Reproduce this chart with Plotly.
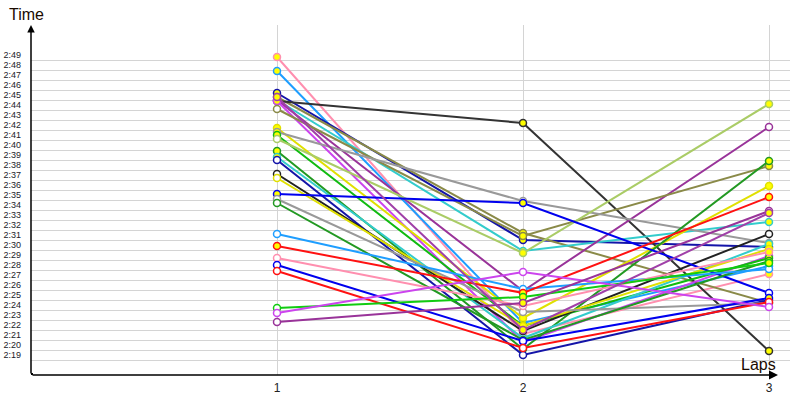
import plotly.graph_objects as go

laps = [1, 2, 3]

# lap times in seconds (2:xx)
pink_a = [168.8, 141.1, 147.1]
dodger_a = [167.4, 142.2, 147.9]
navy_a = [165.2, 150.5, 149.8]
olive_b = [164.8, 151.2, 144.2]
darkgray = [164.4, 162.2, 139.4]
turquoise = [164.5, 149.4, 152.3]
purple_a = [164.5, 145.4, 161.8]
violet_a = [164.4, 140.3, 148.9]
olive_a = [163.6, 150.9, 157.9]
yellow_a = [161.7, 142.7, 155.9]
gray_a = [161.3, 154.4, 150.2]
lime_c = [161.0, 141.9, 148.7]
yellowgreen = [160.6, 149.2, 164.1]
forest_a = [159.4, 139.6, 158.4]
cyan_b = [158.8, 140.7, 150.1]
navy_b = [158.5, 139.0, 144.5]
black = [157.1, 141.4, 151.1]
yellow_b = [156.7, 141.9, 149.6]
blue_a = [155.1, 154.2, 145.2]
gray_b = [154.6, 143.3, 144.2]
forest_b = [154.2, 140.5, 148.4]
dodger_b = [151.1, 145.6, 147.6]
red_a = [149.9, 145.2, 154.8]
pink_b = [148.7, 143.9, 149.3]
blue_b = [148.0, 140.4, 144.7]
red_b = [147.4, 139.7, 144.3]
lime = [143.7, 144.8, 148.2]
violet_b = [143.2, 147.3, 143.8]
purple_b = [142.3, 144.2, 153.4]
purple_c = [164.8, 141.5, 153.2]

series = [
    ("pink_a", pink_a), ("dodger_a", dodger_a), ("navy_a", navy_a), ("olive_b", olive_b),
    ("darkgray", darkgray), ("turquoise", turquoise), ("purple_a", purple_a),
    ("violet_a", violet_a), ("olive_a", olive_a), ("yellow_a", yellow_a), ("gray_a", gray_a),
    ("lime_c", lime_c), ("yellowgreen", yellowgreen), ("forest_a", forest_a),
    ("cyan_b", cyan_b), ("navy_b", navy_b), ("black", black), ("yellow_b", yellow_b),
    ("blue_a", blue_a), ("gray_b", gray_b), ("forest_b", forest_b), ("dodger_b", dodger_b),
    ("red_a", red_a), ("pink_b", pink_b), ("blue_b", blue_b), ("red_b", red_b),
    ("lime", lime), ("violet_b", violet_b), ("purple_b", purple_b), ("purple_c", purple_c),
]

# styles
colors = {
    "pink_a": "#FF8FAF", "pink_b": "#FF8FAF", "dodger_a": "#1E9EFF", "dodger_b": "#1E9EFF",
    "navy_a": "#1414A8", "navy_b": "#1414A8", "olive_a": "#8A8A48", "olive_b": "#8A8A48",
    "darkgray": "#333333", "turquoise": "#33CCCC", "purple_a": "#993399", "purple_b": "#993399",
    "purple_c": "#A040A8", "violet_a": "#CC44EE", "violet_b": "#CC44EE",
    "yellow_a": "#E0E000", "yellow_b": "#E0E000", "gray_a": "#999999", "gray_b": "#999999",
    "lime_c": "#11BB11", "lime": "#11CC11", "yellowgreen": "#AACC66",
    "forest_a": "#229922", "forest_b": "#229922", "cyan_b": "#33CCCC", "black": "#222222",
    "blue_a": "#0000EE", "blue_b": "#0000EE", "red_a": "#FF1111", "red_b": "#FF1111",
}
fills = {
    "pink_a": "YYY", "dodger_a": "YYW", "navy_a": "YYY", "olive_b": "YYY", "darkgray": "YYY",
    "turquoise": "YYY", "purple_a": "YYW", "violet_a": "YWY", "olive_a": "WYY",
    "yellow_a": "YYY", "gray_a": "YWW", "lime_c": "YYY", "yellowgreen": "WYY",
    "forest_a": "YYY", "cyan_b": "YWY", "navy_b": "WWY", "black": "WWW", "yellow_b": "WYY",
    "blue_a": "YYW", "gray_b": "WWW", "forest_b": "WWY", "dodger_b": "WWW", "red_a": "YYY",
    "pink_b": "WWY", "blue_b": "WWY", "red_b": "WWW", "lime": "WYY", "violet_b": "WWW",
    "purple_b": "WYW", "purple_c": "YYY",
}

tick_vals = list(range(139, 170))
tick_text = ["2:%02d" % (v - 120) for v in tick_vals]
grid_vals = [v - 0.5 for v in tick_vals]

fig = go.Figure()
for name, vals in series:
    fc = ["#FFFF00" if c == "Y" else "#FFFFFF" for c in fills[name]]
    fig.add_trace(go.Scatter(
        x=laps, y=vals, mode="lines+markers", name=name,
        line=dict(color=colors[name], width=2),
        marker=dict(size=7, color=fc, line=dict(color=colors[name], width=1.5)),
        cliponaxis=False,
    ))

x_max = 759 / 246
fig.update_layout(
    width=800, height=400,
    margin=dict(l=31, r=10, t=25, b=25, autoexpand=False),
    paper_bgcolor="white", plot_bgcolor="white",
    showlegend=False,
    font=dict(family="Liberation Sans, Arial, sans-serif", color="#222222"),
    xaxis=dict(range=[0, x_max], tickvals=[1, 2, 3], ticktext=["1", "2", "3"],
               showgrid=True, gridcolor="#D4D4D4", gridwidth=1, zeroline=False,
               showline=False, ticks="", tickfont=dict(size=12), ticklabelstandoff=4,
               automargin=False),
    yaxis=dict(range=[137, 172], tickvals=tick_vals, ticktext=tick_text,
               showgrid=False, zeroline=False, showline=False, ticks="",
               tickfont=dict(size=9, color="#1a1a2a"), ticklabelstandoff=9, automargin=False,
               minor=dict(tickvals=grid_vals, showgrid=True, gridcolor="#D4D4D4",
                          gridwidth=1, ticklen=0)),
)

# axis lines with arrows
fig.add_annotation(x=0, y=172, ax=0, ay=137, xref="x", yref="y", axref="x", ayref="y",
                   text="", showarrow=True, arrowhead=2, arrowsize=1, arrowwidth=1.5,
                   arrowcolor="black")
fig.add_annotation(x=747 / 246, y=137, ax=0, ay=137, xref="x", yref="y", axref="x", ayref="y",
                   text="", showarrow=True, arrowhead=2, arrowsize=1.2, arrowwidth=1.5,
                   arrowcolor="black")
fig.add_shape(type="rect", xref="x", yref="y", x0=-2 / 246, x1=2 / 246, y0=136.8, y1=137.2,
              fillcolor="black", line=dict(width=0))

fig.add_annotation(text="Time", xref="paper", yref="paper", x=-0.031, y=1.0286,
                   xanchor="left", yanchor="middle", showarrow=False,
                   font=dict(size=16, color="#1a0a00"))
fig.add_annotation(text="Laps", xref="paper", yref="paper", x=(758 - 31) / 759, y=11 / 350,
                   xanchor="center", yanchor="middle", showarrow=False,
                   font=dict(size=16, color="#1a0a00"))

fig.write_html("out.html", config={"displayModeBar": False},
               post_script="document.body.style.margin='0';")
